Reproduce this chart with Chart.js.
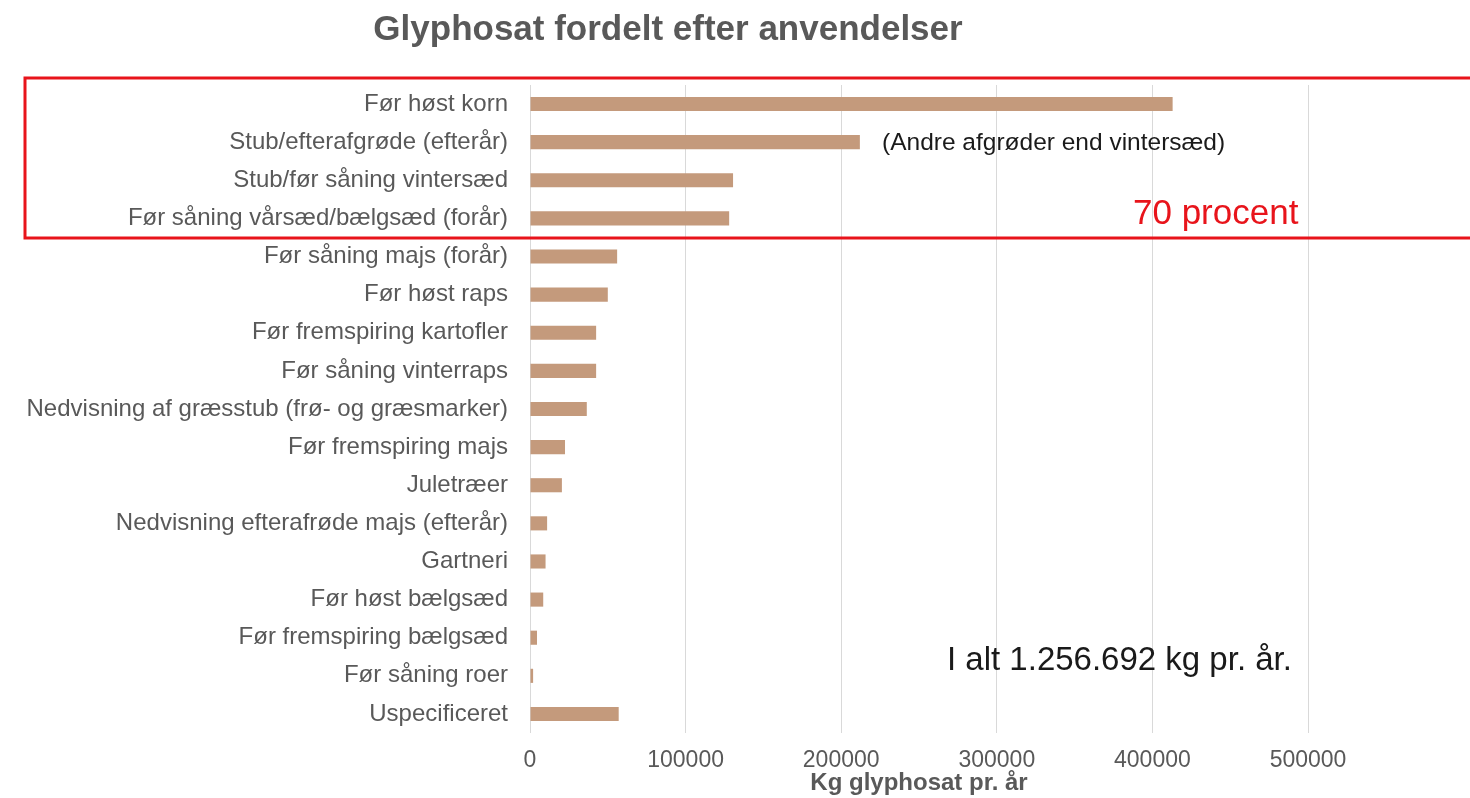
<!DOCTYPE html>
<html>
<head>
<meta charset="utf-8">
<title>Glyphosat fordelt efter anvendelser</title>
<script src="https://cdn.jsdelivr.net/npm/chart.js@4.4.1/dist/chart.umd.min.js"></script>
<style>
  html, body { margin: 0; padding: 0; background: #ffffff; }
  #wrap { width: 1470px; height: 798px; }
</style>
</head>
<body>
<div id="wrap"><canvas id="glyChart" width="1470" height="798"></canvas></div>
<script>
// Anvendelser (kategorier) og kg glyphosat pr. år
const anvendelser = [
    "Før høst korn",
    "Stub/efterafgrøde (efterår)",
    "Stub/før såning vintersæd",
    "Før såning vårsæd/bælgsæd (forår)",
    "Før såning majs (forår)",
    "Før høst raps",
    "Før fremspiring kartofler",
    "Før såning vinterraps",
    "Nedvisning af græsstub (frø- og græsmarker)",
    "Før fremspiring majs",
    "Juletræer",
    "Nedvisning efterafrøde majs (efterår)",
    "Gartneri",
    "Før høst bælgsæd",
    "Før fremspiring bælgsæd",
    "Før såning roer",
    "Uspecificeret"
];
const kgPrAar = [413000, 212000, 130500, 128000, 56000, 50000, 42500, 42500, 36500, 22500, 20500, 11000, 10000, 8500, 4500, 2000, 57000];
const xTicks = [0, 100000, 200000, 300000, 400000, 500000];

const barColor = "#c49a7c";
const labelColor = "#595959";
const fontFamily = "'Liberation Sans', Arial, sans-serif";

// Titel, rød ramme og tekstbokse tegnes oven på grafen
const overlayPlugin = {
    id: "overlay",
    afterDraw(chart) {
        const ctx = chart.ctx;
        ctx.save();
        // titel
        ctx.fillStyle = labelColor;
        ctx.font = "bold 35px " + fontFamily;
        ctx.textAlign = "center";
        ctx.textBaseline = "middle";
        ctx.fillText("Glyphosat fordelt efter anvendelser", 668, 30);

        // rød ramme om de fire største
        ctx.strokeStyle = "#e8141b";
        ctx.lineWidth = 3;
        ctx.strokeRect(25, 78, 1470, 160);

        ctx.textAlign = "left";
        ctx.fillStyle = "#1a1a1a";
        ctx.font = "24.5px " + fontFamily;
        ctx.fillText("(Andre afgrøder end vintersæd)", 882, 143);

        ctx.fillStyle = "#e8141b";
        ctx.font = "35px " + fontFamily;
        ctx.fillText("70 procent", 1133, 214);

        ctx.fillStyle = "#1a1a1a";
        ctx.font = "33px " + fontFamily;
        ctx.fillText("I alt 1.256.692 kg pr. år.", 947, 661);
        ctx.restore();
    }
};

function createChart() {
    const ctx = document.getElementById("glyChart").getContext("2d");
    new Chart(ctx, {
        type: "bar",
        data: {
            labels: anvendelser,
            datasets: [{
                label: "Kg glyphosat pr. år",
                data: kgPrAar,
                backgroundColor: barColor,
                borderWidth: 0,
                barPercentage: 0.37,
                categoryPercentage: 1.0,
            }],
        },
        options: {
            indexAxis: "y",
            responsive: false,
            animation: false,
            layout: {
                padding: { top: 85, right: 162, bottom: 0, left: 0 },
            },
            scales: {
                x: {
                    min: 0,
                    max: 500000,
                    afterBuildTicks: (axis) => {
                        axis.ticks = xTicks.map(v => ({ value: v }));
                    },
                    afterFit: (axis) => { axis.height = 65; },
                    grid: { color: "#d9d9d9", drawTicks: false },
                    border: { display: false },
                    ticks: {
                        color: labelColor,
                        padding: 14,
                        font: { family: fontFamily, size: 23 },
                        callback: (v) => String(v), // ingen tusindtalsseparator
                    },
                    title: {
                        display: true,
                        text: "Kg glyphosat pr. år",
                        color: labelColor,
                        padding: { top: 0, bottom: 0 },
                        font: { family: fontFamily, size: 24, weight: "bold" },
                    },
                },
                y: {
                    afterFit: (axis) => { axis.width = 530; },
                    grid: { display: false, drawTicks: false },
                    border: { display: false },
                    ticks: {
                        color: labelColor,
                        padding: 22,
                        autoSkip: false,
                        font: { family: fontFamily, size: 24 },
                    },
                },
            },
            plugins: {
                legend: { display: false },
                tooltip: { enabled: false },
            },
        },
        plugins: [overlayPlugin],
    });
}

document.addEventListener("DOMContentLoaded", createChart);
</script>
</body>
</html>
